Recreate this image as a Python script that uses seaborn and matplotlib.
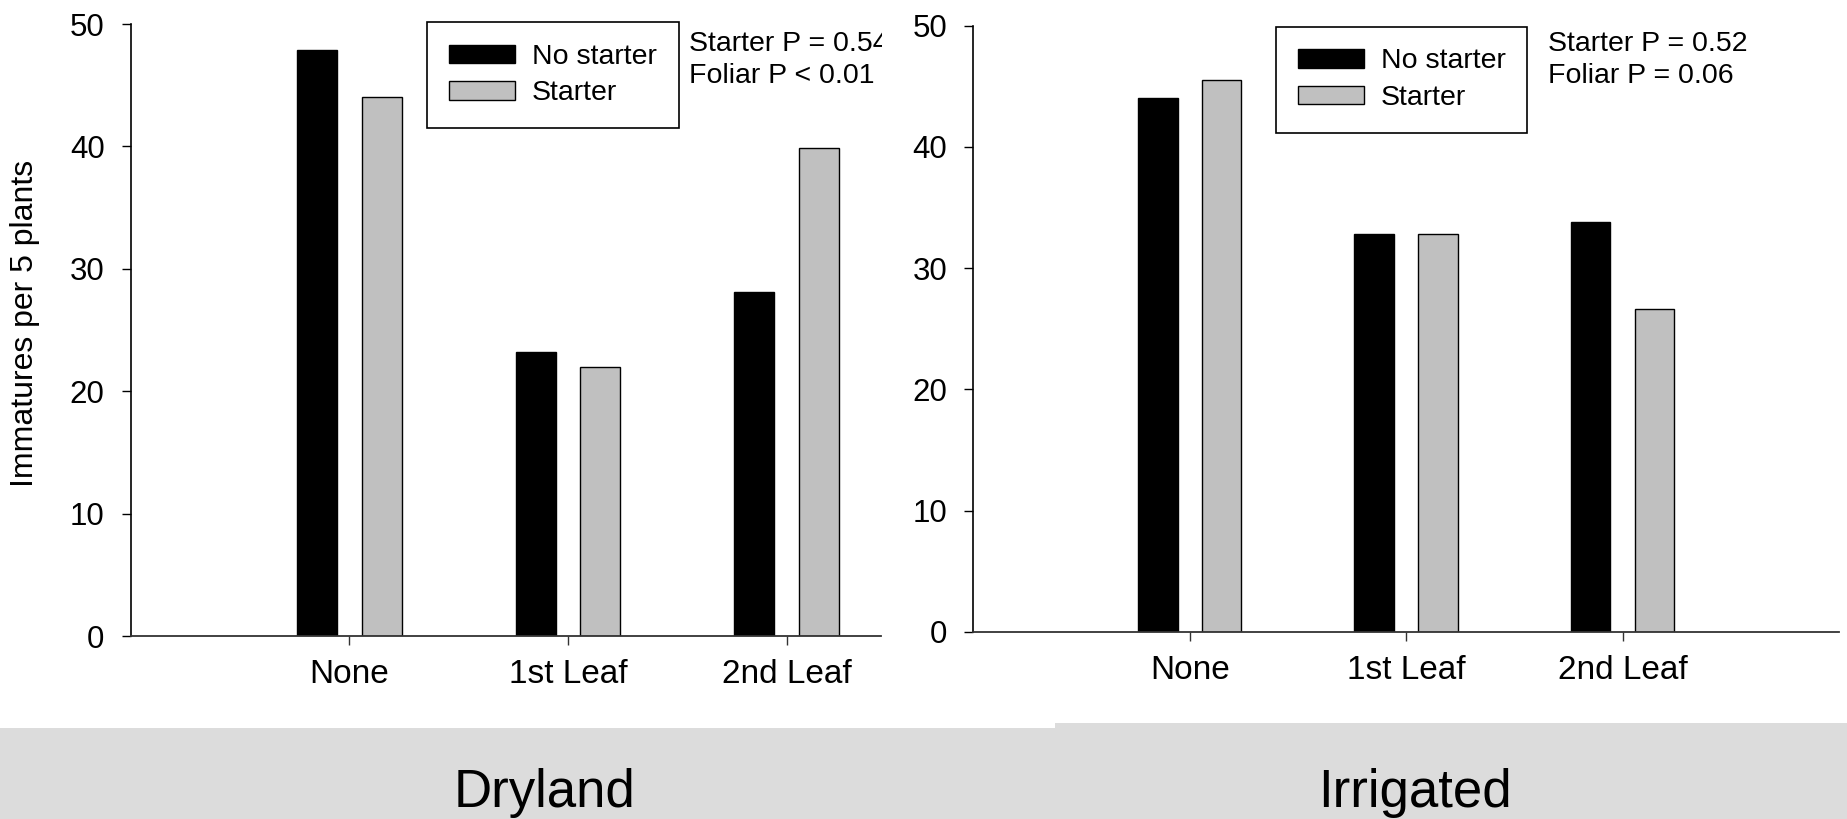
import pandas as pd
import matplotlib
import matplotlib.pyplot as plt
from matplotlib.patches import Rectangle
import seaborn as sns

matplotlib.use('Agg')

# Values
foliar = ['None', '1st Leaf', '2nd Leaf']
starter_groups = ['No starter', 'Starter']
dryland_no_starter = [47.9, 23.2, 28.1]
dryland_starter = [44.0, 22.0, 39.9]
irrigated_no_starter = [44.0, 32.8, 33.8]
irrigated_starter = [45.5, 32.8, 26.6]
dryland_stats = ['Starter P = 0.54', 'Foliar P < 0.01']
irrigated_stats = ['Starter P = 0.52', 'Foliar P = 0.06']
y_ticks = [0, 10, 20, 30, 40, 50]
panel_names = ['Dryland', 'Irrigated']

W, H = 1847, 819


def box(x0, y0, x1, y1):
    # pixel box (y from top) -> figure fraction rect
    return [x0 / W, 1 - y1 / H, (x1 - x0) / W, (y1 - y0) / H]


def make_df(no_st, st):
    return pd.DataFrame({
        'foliar': foliar * 2,
        'starter': [starter_groups[0]] * 3 + [starter_groups[1]] * 3,
        'count': no_st + st,
    })


sns.set_style('ticks')
plt.rcParams['font.family'] = ['Liberation Sans', 'DejaVu Sans']
for key in ['text.color', 'axes.labelcolor', 'xtick.color', 'ytick.color']:
    plt.rcParams[key] = 'black'

fig = plt.figure(figsize=(W / 100, H / 100), dpi=100)

ax1 = fig.add_axes(box(130.7, 24, 880.7, 636))
ax2 = fig.add_axes(box(973.3, 25.7, 1839, 631.7))
ax1.set_zorder(0)
ax2.set_zorder(1)


def draw_panel(ax, df, xmax, stats, legend_xy, stats_x):
    sns.barplot(data=df, x='foliar', y='count', hue='starter', order=foliar,
                hue_order=starter_groups,
                palette={'No starter': 'black', 'Starter': '#c0c0c0'},
                width=0.59, gap=0.38, edgecolor='black', linewidth=1,
                errorbar=None, ax=ax)
    ax.set_xlim(-1, xmax)
    ax.set_ylim(0, 50)
    ax.set_yticks(y_ticks)
    ax.set_xlabel('')
    ax.set_ylabel('')
    sns.despine(ax=ax)
    ax.spines['left'].set_linewidth(1.2)
    ax.spines['left'].set_color('black')
    ax.spines['bottom'].set_linewidth(1.3)
    ax.spines['bottom'].set_color('#333333')
    ax.tick_params(axis='y', labelsize=22.5, pad=12, length=6.8, width=1, color='black')
    ax.tick_params(axis='x', labelsize=24, pad=10, length=6.8, width=1, color='#333333')

    handles, labels = ax.get_legend_handles_labels()
    leg = ax.legend(handles, labels, loc='upper left',
                    bbox_to_anchor=(legend_xy[0] / W, 1 - legend_xy[1] / H),
                    bbox_transform=fig.transFigure, fontsize=20.5,
                    handlelength=2.32, handleheight=0.62, handletextpad=0.6,
                    labelspacing=0.37, borderpad=0.76, borderaxespad=0,
                    fancybox=False, framealpha=1, edgecolor='black')
    leg.get_frame().set_linewidth(1.2)

    for s, yb in zip(stats, [51, 83.3]):
        ax.text(stats_x / W, 1 - yb / H, s, transform=fig.transFigure,
                fontsize=20.5, ha='left', va='baseline', clip_on=False)


draw_panel(ax1, make_df(dryland_no_starter, dryland_starter), 2.43,
           dryland_stats, (427.3, 22.3), 689.3)
draw_panel(ax2, make_df(irrigated_no_starter, irrigated_starter), 3.0,
           irrigated_stats, (1276, 26.7), 1548)

ax1.set_ylabel('Immatures per 5 plants', fontsize=23)
ax1.yaxis.set_label_coords((25 - 130.7) / 750, (636 - 323) / 612)
ax1.yaxis.label.set_verticalalignment('center')

# right picture sits over the clipped edge of the left one
fig.add_artist(Rectangle((882 / W, 1 - 723 / H), (W - 882) / W, 723 / H,
                         transform=fig.transFigure, facecolor='white',
                         edgecolor='none', zorder=0.5))

# grey caption bands
fig.add_artist(Rectangle((0, 0), 1055 / W, 91 / H, transform=fig.transFigure,
                         facecolor='#dcdcdc', edgecolor='none', zorder=2))
fig.add_artist(Rectangle((1055 / W, 0), (W - 1055) / W, 96 / H,
                         transform=fig.transFigure, facecolor='#dcdcdc',
                         edgecolor='none', zorder=2))
for name, xc in zip(panel_names, [544, 1415]):
    fig.text(xc / W, 1 - 806.7 / H, name, ha='center', va='baseline',
             fontsize=38, zorder=3)

plt.savefig('out.png', dpi=100)
